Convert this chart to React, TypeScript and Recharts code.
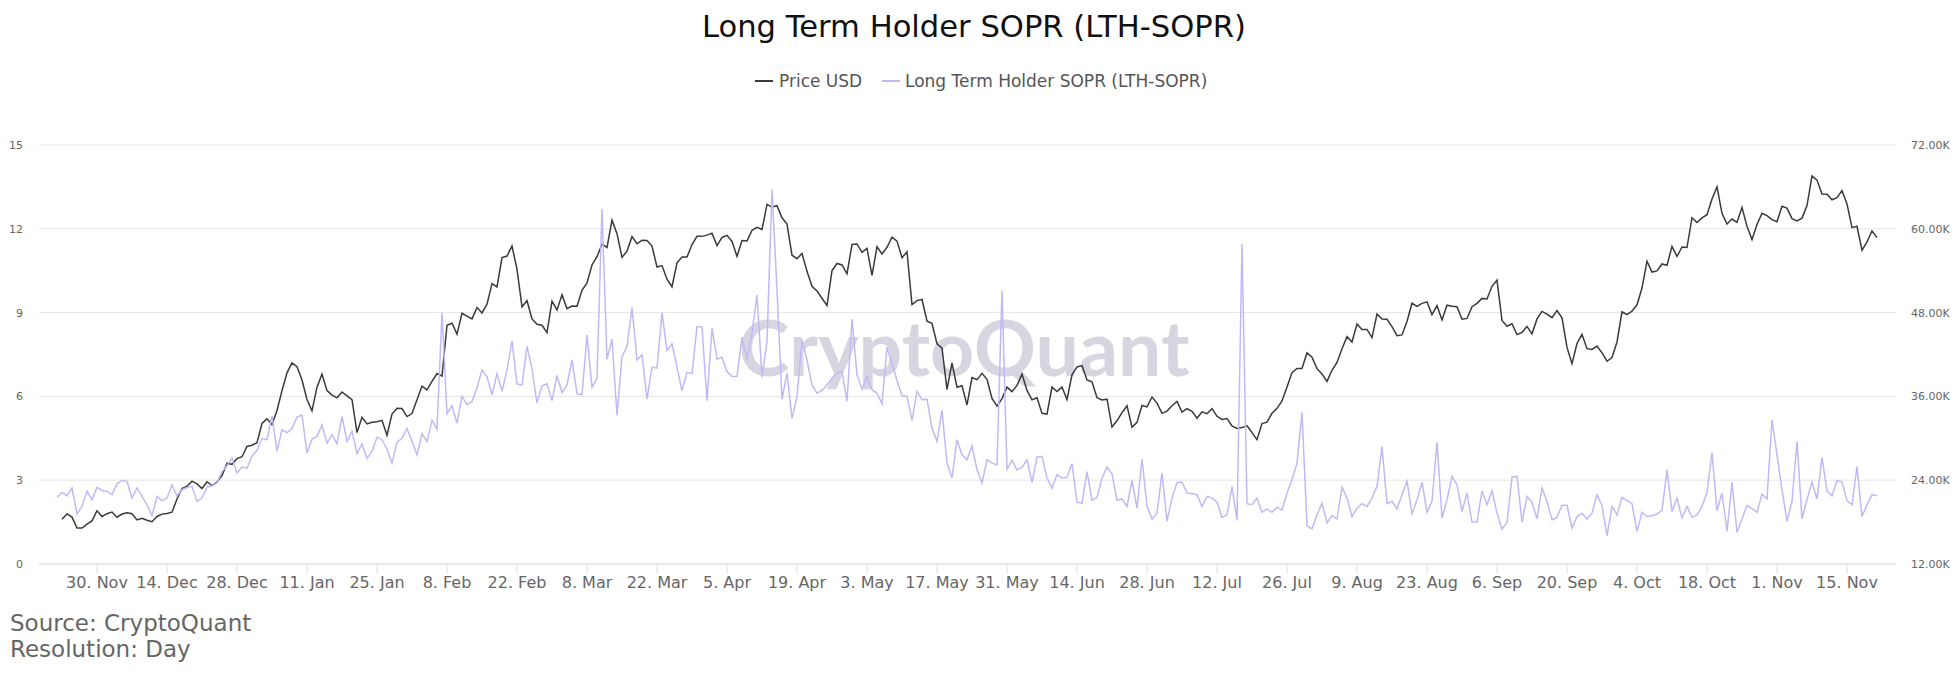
import React from "react";
import { CartesianGrid, Line, LineChart, XAxis, YAxis } from "recharts";

// one value per day, 22 Nov 2020 .. 21 Nov 2021
// Price USD (no price on the first day)
const priceNov20 = [null, 18414, 19165, 18720, 17150, 17139, 17720, 18178, 19625];
const priceDec20 = [18803, 19201, 19445, 18699, 19154, 19345, 19191, 18321, 18553, 18264, 18058, 18803, 19142, 19246, 19417, 21310, 22805, 23137, 23869, 23477, 22803, 23783, 23241, 23735, 24664, 26437, 26273, 27084, 27362, 28840, 29002];
const priceJan21 = [29374, 32127, 32782, 31971, 33992, 36824, 39371, 40797, 40254, 38356, 35566, 33922, 37316, 39187, 36825, 36178, 35792, 36630, 36070, 35548, 30825, 33005, 32067, 32289, 32366, 32569, 30432, 33467, 34316, 34269, 33115];
const priceFeb21 = [33537, 35510, 37473, 36926, 38144, 39266, 38903, 46196, 46482, 44919, 47909, 47505, 47105, 48717, 47945, 49200, 52150, 51679, 55888, 56100, 57540, 54207, 48824, 49705, 47093, 46340, 46188, 45137];
const priceMar21 = [49631, 48378, 50538, 48561, 48927, 48912, 51206, 52246, 54824, 56008, 57805, 57332, 61243, 59302, 55907, 56804, 58870, 57858, 58346, 58313, 57523, 54529, 54738, 52774, 51704, 55137, 55974, 55950, 57750, 58918, 58918];
const priceApr21 = [59095, 59384, 57603, 58758, 59057, 58192, 56048, 58323, 58245, 59793, 60204, 59893, 63503, 63109, 63314, 61572, 60683, 56216, 55724, 56473, 53906, 51762, 51093, 50050, 49004, 54021, 55033, 54824, 53555, 57750];
const priceMay21 = [57828, 56632, 57200, 53333, 57424, 56396, 57356, 58803, 58232, 55859, 56704, 49150, 49716, 49880, 46760, 46456, 43537, 42909, 37002, 40782, 37304, 37536, 34770, 38706, 38402, 39295, 38436, 35697, 34616, 35678, 37333];
const priceJun21 = [36685, 37576, 39188, 36852, 35520, 35797, 33573, 33470, 37346, 36702, 37335, 35553, 39098, 40218, 40407, 38348, 38093, 35820, 35484, 35601, 31609, 32509, 33679, 34663, 31585, 32283, 34700, 34494, 35911, 35040];
const priceJul21 = [33572, 33897, 34668, 35287, 33746, 34235, 33855, 32877, 33798, 33520, 34240, 33155, 32702, 32822, 31780, 31421, 31533, 31796, 30817, 29807, 32110, 32313, 33581, 34292, 35350, 37337, 39406, 39995, 40008, 42236, 41626];
const priceAug21 = [39974, 39201, 38152, 39747, 40870, 42816, 44555, 43798, 46365, 45585, 45593, 44428, 47793, 47096, 47047, 46004, 44695, 44801, 46717, 49339, 48905, 49321, 49546, 47707, 48993, 46942, 49058, 48903, 48830, 47055, 47166];
const priceSep21 = [48848, 49327, 50035, 49948, 51770, 52663, 46863, 46049, 46396, 44851, 45173, 46026, 44963, 47093, 48176, 47784, 47268, 48279, 47261, 43012, 40694, 43574, 44896, 42840, 42717, 43209, 42236, 41034, 41564, 43791];
const priceOct21 = [48116, 47711, 48199, 49112, 51514, 55361, 53805, 53967, 54968, 54771, 57484, 56041, 57401, 57321, 61593, 60892, 61553, 62026, 64262, 65993, 62210, 60692, 61393, 60931, 63039, 60364, 58482, 60622, 62228, 61888, 61319];
const priceNov21 = [61005, 63227, 62970, 61452, 61125, 61528, 63327, 67566, 66972, 64996, 64950, 64155, 64469, 65466, 63557, 60161, 60368, 56942, 58119, 59697, 58731];

// Long Term Holder SOPR
const soprNov20 = [2.38, 2.56, 2.44, 2.72, 1.79, 2.06, 2.6, 2.3, 2.74];
const soprDec20 = [2.63, 2.6, 2.48, 2.87, 3.0, 2.96, 2.36, 2.72, 2.42, 2.12, 1.73, 2.42, 2.27, 2.36, 2.83, 2.44, 2.66, 2.74, 2.78, 2.24, 2.36, 2.75, 2.8, 2.9, 3.31, 3.52, 3.79, 3.26, 3.47, 3.43, 3.87];
const soprJan21 = [4.07, 4.5, 4.45, 5.3, 4.03, 4.8, 4.7, 4.86, 5.26, 5.33, 3.97, 4.47, 4.57, 4.98, 4.33, 4.63, 4.3, 5.28, 4.39, 4.75, 3.95, 4.3, 3.78, 4.03, 4.54, 4.45, 4.11, 3.61, 4.36, 4.5, 4.85];
const soprFeb21 = [4.39, 3.91, 4.66, 4.39, 5.14, 4.83, 9.0, 5.38, 5.66, 5.04, 6.0, 5.7, 5.82, 6.3, 6.95, 6.71, 6.06, 6.81, 6.18, 6.95, 7.99, 6.44, 6.41, 7.79, 6.98, 5.76, 6.38, 6.45];
const soprMar21 = [5.85, 6.75, 6.14, 6.41, 7.31, 6.09, 6.06, 8.2, 6.33, 6.65, 12.71, 7.33, 8.05, 5.32, 7.43, 7.79, 9.18, 7.31, 7.49, 5.9, 7.05, 7.01, 9.0, 7.64, 7.88, 7.05, 6.2, 6.87, 6.81, 8.5, 8.48];
const soprApr21 = [5.85, 8.44, 7.33, 7.4, 6.89, 6.71, 6.71, 8.12, 7.33, 8.26, 9.63, 6.69, 7.96, 13.41, 9.81, 5.9, 6.83, 5.22, 6.0, 8.02, 7.31, 6.41, 6.12, 6.21, 6.41, 6.65, 6.83, 6.89, 5.82, 8.76];
const soprMay21 = [6.77, 6.26, 6.71, 6.24, 6.12, 5.73, 7.76, 7.19, 6.57, 6.03, 6.0, 5.14, 6.18, 5.88, 5.9, 4.86, 4.39, 5.5, 3.61, 3.08, 4.45, 3.91, 3.73, 4.23, 3.37, 2.9, 3.73, 3.61, 3.55, 9.79, 3.4];
const soprJun21 = [3.71, 3.37, 3.47, 3.73, 2.92, 3.83, 3.85, 3.08, 2.72, 3.2, 3.08, 3.1, 3.59, 2.21, 2.18, 3.31, 2.28, 2.38, 3.08, 3.47, 3.23, 2.28, 2.33, 2.06, 2.99, 2.0, 3.76, 2.06, 1.61, 1.82];
const soprJul21 = [3.26, 1.53, 2.36, 2.92, 2.93, 2.54, 2.52, 2.48, 2.06, 2.42, 2.36, 2.21, 1.67, 1.76, 2.78, 1.56, 11.45, 2.16, 2.12, 2.36, 1.85, 1.97, 1.85, 2.03, 1.94, 2.54, 3.02, 3.61, 5.43, 1.37, 1.26];
const soprAug21 = [1.76, 2.18, 1.47, 1.73, 1.61, 2.75, 2.36, 1.7, 2.0, 2.16, 2.06, 2.36, 2.78, 4.21, 2.16, 2.24, 1.97, 2.48, 2.96, 1.8, 2.28, 2.93, 1.85, 2.24, 4.36, 1.65, 2.3, 3.14, 2.84, 1.88, 2.54];
const soprSep21 = [1.5, 1.5, 2.62, 2.12, 2.62, 1.82, 1.25, 1.49, 3.1, 3.14, 1.5, 2.42, 2.21, 1.62, 2.72, 2.24, 1.59, 1.67, 2.1, 2.1, 1.29, 1.7, 1.82, 1.61, 1.82, 2.48, 2.09, 1.01, 2.06, 1.76];
const soprOct21 = [2.38, 2.27, 2.16, 1.17, 1.85, 1.7, 1.73, 1.79, 1.92, 3.37, 1.88, 2.36, 1.65, 2.06, 1.67, 1.76, 2.06, 2.56, 3.99, 1.91, 2.54, 1.17, 2.92, 1.13, 1.61, 2.1, 1.98, 1.85, 2.5, 2.33, 5.16];
const soprNov21 = [3.91, 2.66, 1.53, 2.24, 4.39, 1.61, 2.3, 2.93, 2.33, 3.82, 2.62, 2.44, 2.99, 2.93, 2.27, 2.12, 3.49, 1.7, 2.12, 2.48, 2.44];

const priceUsd = [
  ...priceNov20, ...priceDec20, ...priceJan21, ...priceFeb21, ...priceMar21, ...priceApr21, ...priceMay21,
  ...priceJun21, ...priceJul21, ...priceAug21, ...priceSep21, ...priceOct21, ...priceNov21,
];
const lthSopr = [
  ...soprNov20, ...soprDec20, ...soprJan21, ...soprFeb21, ...soprMar21, ...soprApr21, ...soprMay21,
  ...soprJun21, ...soprJul21, ...soprAug21, ...soprSep21, ...soprOct21, ...soprNov21,
];

// x ticks: day index from 22 Nov 2020, and their labels
const tickDays = [8, 22, 36, 50, 64, 78, 92, 106, 120, 134, 148, 162, 176, 190, 204, 218, 232, 246, 260, 274, 288, 302, 316, 330, 344, 358];
const tickLabels = [
  "30. Nov", "14. Dec", "28. Dec", "11. Jan", "25. Jan", "8. Feb", "22. Feb", "8. Mar", "22. Mar",
  "5. Apr", "19. Apr", "3. May", "17. May", "31. May", "14. Jun", "28. Jun", "12. Jul", "26. Jul",
  "9. Aug", "23. Aug", "6. Sep", "20. Sep", "4. Oct", "18. Oct", "1. Nov", "15. Nov",
];
const soprTicks = [0, 3, 6, 9, 12, 15];
const priceTicks = [12000, 24000, 36000, 48000, 60000, 72000];

const FONT = "'DejaVu Sans', sans-serif";
const PRICE_COLOR = "#3a3a3a";
const SOPR_COLOR = "#c2b8f8";

export default function App() {
  const rows = lthSopr.map((s, i) => ({ day: i, price: priceUsd[i], sopr: s }));

  return (
    <div
      style={{
        position: "absolute",
        left: 0,
        top: 0,
        width: 1960,
        height: 680,
        background: "#fff",
        fontFamily: FONT,
      }}
    >
      <svg width={1960} height={680} style={{ position: "absolute", left: 0, top: 0 }}>
        <text x={964} y={376} textAnchor="middle" fontFamily="Lato" fontWeight={700} fontSize={77} fill="#d7d6e0">
          CryptoQuant
        </text>
        <text x={974} y={37} textAnchor="middle" fontSize={30.6} fill="#111" fontFamily={FONT}>
          Long Term Holder SOPR (LTH-SOPR)
        </text>
        <line x1={755} x2={773} y1={81} y2={81} stroke={PRICE_COLOR} strokeWidth={2} />
        <text x={779} y={87} fontSize={17} fill="#555" fontFamily={FONT}>
          Price USD
        </text>
        <line x1={882} x2={900} y1={81} y2={81} stroke={SOPR_COLOR} strokeWidth={2} />
        <text x={905} y={87} fontSize={17} fill="#555" fontFamily={FONT}>
          Long Term Holder SOPR (LTH-SOPR)
        </text>
        <text x={10} y={631} fontSize={23} fill="#666" fontFamily={FONT}>
          Source: CryptoQuant
        </text>
        <text x={10} y={657} fontSize={23} fill="#666" fontFamily={FONT}>
          Resolution: Day
        </text>
      </svg>
      <div style={{ position: "absolute", left: 0, top: 0 }}>
        <LineChart width={1960} height={680} data={rows} margin={{ top: 145, right: 0, bottom: 86, left: 0 }}>
          <CartesianGrid vertical={false} stroke="#e6e6e6" yAxisId="sopr" />
          <XAxis
            dataKey="day"
            type="number"
            domain={[0, 364]}
            padding={{ left: 18, right: 19 }}
            ticks={tickDays}
            interval={0}
            tickFormatter={(v: number) => tickLabels[tickDays.indexOf(v)]}
            height={30}
            tickSize={10}
            tickMargin={3}
            stroke="#e0e0e0"
            tick={{ fill: "#666", fontSize: 16, fontFamily: FONT }}
          />
          <YAxis
            yAxisId="sopr"
            orientation="left"
            width={39}
            domain={[0, 15]}
            ticks={soprTicks}
            axisLine={false}
            tickLine={false}
            tickSize={0}
            tickMargin={16}
            tick={{ fill: "#666", fontSize: 11, fontFamily: FONT }}
          />
          <YAxis
            yAxisId="price"
            orientation="right"
            width={64}
            domain={[12000, 72000]}
            ticks={priceTicks}
            axisLine={false}
            tickLine={false}
            tickSize={0}
            tickMargin={15}
            tickFormatter={(v: number) => `${(v / 1000).toFixed(2)}K`}
            tick={{ fill: "#666", fontSize: 11, fontFamily: FONT }}
          />
          <Line
            yAxisId="price"
            dataKey="price"
            stroke={PRICE_COLOR}
            strokeWidth={1.5}
            dot={false}
            activeDot={false}
            isAnimationActive={false}
          />
          <Line
            yAxisId="sopr"
            dataKey="sopr"
            stroke={SOPR_COLOR}
            strokeWidth={1.5}
            dot={false}
            activeDot={false}
            isAnimationActive={false}
          />
        </LineChart>
      </div>
    </div>
  );
}
